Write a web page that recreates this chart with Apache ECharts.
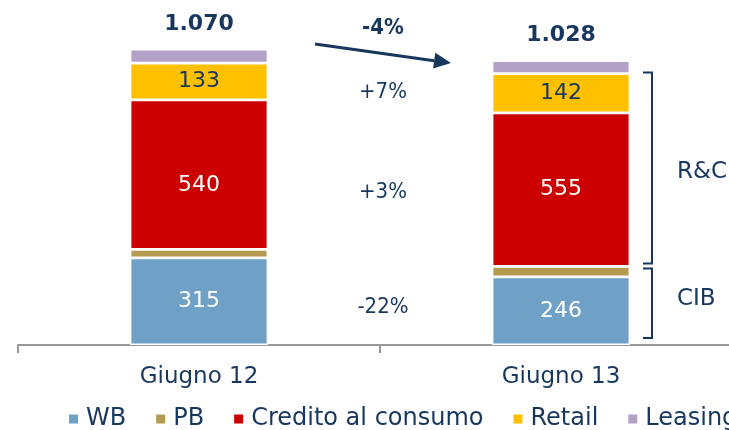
<!DOCTYPE html>
<html>
<head>
<meta charset="utf-8">
<script src="https://cdn.jsdelivr.net/npm/echarts@6/dist/echarts.min.js"></script>
<style>
  html, body { margin: 0; padding: 0; background: #fff; }
  #chart { width: 729px; height: 430px; }
</style>
</head>
<body>
<div id="chart"></div>
<script>
'use strict'

// dati
var categories = ['Giugno 12', 'Giugno 13'];
var wb = [315, 246];
var pb = [31, 38];
var credito = [540, 555];
var retail = [133, 142];
var leasing = [51, 47];
var variazioni = ['+7%', '+3%', '-22%'];   // Retail, Credito, WB
var variazioneTotale = '-4%';

var NAVY = '#17375e';
var FONT = 'DejaVu Sans';
var FONT_N = '"DejaVu Sans Condensed", "DejaVu Sans"';

var totals = categories.map(function (c, i) {
  return wb[i] + pb[i] + credito[i] + retail[i] + leasing[i];
});
function fmt(n) {   // 1070 -> 1.070
  return String(n).replace(/\B(?=(\d{3})+(?!\d))/g, '.');
}

function serie(name, data, color, lbl) {
  return {
    name: name,
    type: 'bar',
    stack: 'tot',
    barWidth: 138,
    data: data,
    itemStyle: { color: color, borderColor: '#fff', borderWidth: 1.4 },
    label: lbl || { show: false },
    emphasis: { disabled: true }
  };
}
function inside(col) {
  return { show: true, position: 'inside', color: col, fontSize: 22, fontFamily: FONT };
}

// nel riferimento il 540 sta un po' più in basso
var creditoData = credito.map(function (v, i) {
  return i === 0 ? { value: v, label: { offset: [0, 11] } } : v;
});

var chartView = echarts.init(document.getElementById('chart'));
chartView.setOption({
  animation: false,
  textStyle: { fontFamily: FONT },
  grid: { left: 18, width: 724, top: 49, bottom: 85, outerBoundsMode: 'none' },
  xAxis: {
    type: 'category',
    data: categories,
    axisLine: { lineStyle: { color: '#999', width: 2 } },
    axisTick: { show: true, length: 8, lineStyle: { color: '#999', width: 2 } },
    axisLabel: { color: NAVY, fontSize: 23, fontFamily: FONT, margin: 21 }
  },
  yAxis: { type: 'value', min: 0, max: 1070, show: false },
  legend: {
    left: 62, top: 402, width: 1000,
    icon: 'rect', itemWidth: 11, itemHeight: 11, itemGap: 28,
    textStyle: { color: NAVY, fontSize: 24, fontFamily: FONT, padding: [0, 0, 0, 2] },
    data: ['WB', 'PB', 'Credito al consumo', 'Retail', 'Leasing']
  },
  series: [
    serie('WB', wb, '#6fa0c6', inside('#fff')),
    serie('PB', pb, '#b59a52'),
    serie('Credito al consumo', creditoData, '#cc0000', inside('#fff')),
    serie('Retail', retail, '#ffc000', inside(NAVY)),
    serie('Leasing', leasing, '#b3a2c7', {
      show: true, position: 'top', distance: 14,
      color: NAVY, fontSize: 22, fontWeight: 'bold', fontFamily: FONT,
      formatter: function (p) { return fmt(totals[p.dataIndex]); }
    })
  ]
});

// annotazioni: variazioni, freccia, parentesi R&C / CIB
var px = function (i, v) { return chartView.convertToPixel({ seriesIndex: 0 }, [i, v]); };
var midX = (px(0, 0)[0] + px(1, 0)[0]) / 2;
var b1 = px(1, 0)[0] + 69;   // bordo destro barra 2

var mid1 = px(0, wb[0] + pb[0] + credito[0] + retail[0] / 2)[1];
var mid2 = px(0, wb[0] + pb[0] + credito[0] / 2)[1];
var mid3 = px(0, wb[0] / 2)[1];

function testo(t, x, y, bold, family, align) {
  return {
    type: 'text', x: x, y: y,
    style: {
      text: t, fill: NAVY, font: (bold ? 'bold ' : '') + (family ? '23px ' + family : '22px ' + FONT_N),
      align: align || 'center', verticalAlign: 'middle'
    }
  };
}
function parentesi(yTop, yBot, label, labelY) {
  var x = b1 + 22;
  return [
    { type: 'polyline', shape: { points: [[x - 9, yTop], [x, yTop], [x, yBot], [x - 9, yBot]] },
      style: { stroke: NAVY, lineWidth: 2, fill: null } },
    testo(label, 677, labelY, false, '"' + FONT + '"', 'left')
  ];
}

var yTot2 = px(1, totals[1])[1];
var yCred2 = px(1, wb[1] + pb[1])[1];
var y0 = px(1, 0)[1];

var tip = [451, 63];
var ang = Math.atan2(tip[1] - 44, tip[0] - 315);
var hl = 17, hw = 8;
var base = [tip[0] - hl * Math.cos(ang), tip[1] - hl * Math.sin(ang)];

chartView.setOption({
  graphic: [
    testo(variazioneTotale, midX + 3, 28, true),
    testo(variazioni[0], midX + 3, mid1 + 11, false),
    testo(variazioni[1], midX + 3, mid2 + 18, false),
    testo(variazioni[2], midX + 3, mid3 + 6, false),
    { type: 'line', shape: { x1: 315, y1: 44, x2: base[0], y2: base[1] },
      style: { stroke: NAVY, lineWidth: 3 } },
    { type: 'polygon', shape: { points: [
        tip,
        [base[0] + hw * Math.sin(ang), base[1] - hw * Math.cos(ang)],
        [base[0] - hw * Math.sin(ang), base[1] + hw * Math.cos(ang)]
      ] }, style: { fill: NAVY } }
  ].concat(
    parentesi(yTot2 + 12, yCred2 - 3, 'R&C', 172),
    parentesi(yCred2 + 2, y0 - 7, 'CIB', 299)
  )
});
</script>
</body>
</html>
